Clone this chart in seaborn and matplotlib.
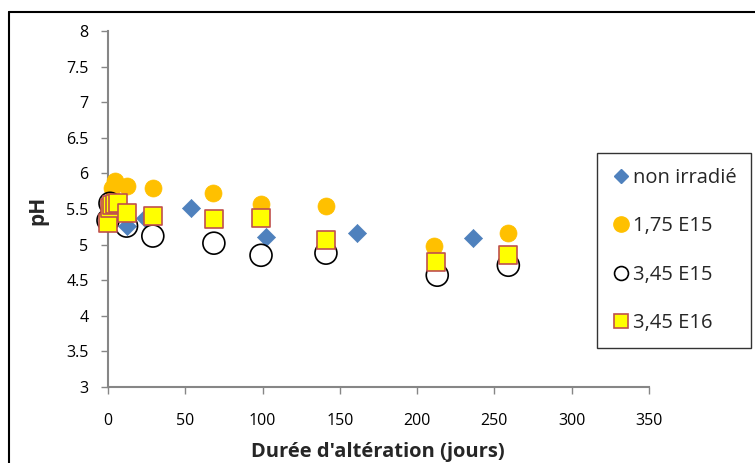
import matplotlib
matplotlib.use("Agg")
import matplotlib.pyplot as plt
import seaborn as sns
import pandas as pd
from matplotlib.lines import Line2D

sns.set_theme(style="white")
plt.rcParams['font.family'] = ['Open Sans', 'DejaVu Sans']

# Data
x_non = [3, 10, 12, 24, 54, 102, 161, 236]
y_non = [5.55, 5.50, 5.26, 5.37, 5.52, 5.10, 5.16, 5.09]

x_175 = [2.6, 4.5, 12, 29, 68, 99, 141, 211, 259]
y_175 = [5.79, 5.90, 5.83, 5.79, 5.73, 5.57, 5.54, 4.98, 5.16]

x_345e15 = [0, 1.3, 12, 29, 68.5, 99, 141, 213, 259]
y_345e15 = [5.34, 5.58, 5.26, 5.12, 5.02, 4.85, 4.88, 4.57, 4.71]

x_345e16 = [0, 1, 2.6, 4.5, 6.5, 12.3, 29, 68.5, 99, 141, 212, 259]
y_345e16 = [5.30, 5.52, 5.55, 5.57, 5.58, 5.44, 5.40, 5.36, 5.37, 5.06, 4.75, 4.85]

labels = ["non irradié", "1,75 E15", "3,45 E15", "3,45 E16"]
xticks = [0, 50, 100, 150, 200, 250, 300, 350]
yticks = [3, 3.5, 4, 4.5, 5, 5.5, 6, 6.5, 7, 7.5, 8]

fig = plt.figure(figsize=(7.55, 4.63), dpi=100)
ax = fig.add_axes([108/755, 1-387/463, (649-108)/755, (387-31)/463])

sns.scatterplot(x=x_non, y=y_non, marker='D', s=85, color='#4F81BD',
                edgecolor='#4F81BD', linewidth=0.5, ax=ax, zorder=3, clip_on=False)
sns.scatterplot(x=x_175, y=y_175, marker='o', s=150, color='#FFC000',
                edgecolor='#FFC000', linewidth=0.5, ax=ax, zorder=4, clip_on=False)
sns.scatterplot(x=x_345e15, y=y_345e15, marker='o', s=250, facecolor='none',
                edgecolor='black', linewidth=1.2, ax=ax, zorder=5, clip_on=False)
sns.scatterplot(x=x_345e16, y=y_345e16, marker='s', s=150, color='#FFFF00',
                edgecolor='#C0504D', linewidth=1.2, ax=ax, zorder=6, clip_on=False)

ax.set_xlim(0, 350)
ax.set_ylim(3, 8)
ax.set_xticks(xticks)
ax.set_xticklabels([str(v) for v in xticks])
ax.set_yticks(yticks)
ax.set_yticklabels([('%g' % v) for v in yticks])
ax.set_xlabel('')
ax.set_ylabel('')

for side in ['top', 'right']:
    ax.spines[side].set_visible(False)
for side in ['left', 'bottom']:
    ax.spines[side].set_color('#868686')
    ax.spines[side].set_linewidth(1.5)
    ax.spines[side].set_zorder(1)
ax.tick_params(axis='both', which='major', direction='out', length=5, width=1,
               color='#868686', labelsize=11.5, labelcolor='black',
               left=True, bottom=True)
ax.tick_params(axis='y', pad=9)
ax.tick_params(axis='x', pad=14)

fig.text(378/755, 1-452/463, "Durée d'altération (jours)", ha='center', va='center',
         fontsize=14.5, fontweight='bold')
fig.text(38/755, 1-210/463, 'pH', ha='center', va='center', rotation=90,
         fontsize=15, fontweight='bold')

handles = [
    Line2D([], [], ls='none', marker='D', markersize=7.5, color='#4F81BD'),
    Line2D([], [], ls='none', marker='o', markersize=11, color='#FFC000'),
    Line2D([], [], ls='none', marker='o', markersize=10, markerfacecolor='none',
           markeredgecolor='black', markeredgewidth=1.2),
    Line2D([], [], ls='none', marker='s', markersize=10.5, markerfacecolor='#FFFF00',
           markeredgecolor='#C0504D', markeredgewidth=1.2),
]
leg = fig.legend(handles, labels, loc='center',
                 bbox_to_anchor=(600/755, 1-349/463, 148/755, 197/463),
                 frameon=True, fancybox=False, fontsize=14.5, labelspacing=1.4,
                 handletextpad=0.15, handlelength=0.9, borderpad=0.75,
                 borderaxespad=0)
leg.get_frame().set_edgecolor('black')
leg.get_frame().set_linewidth(1.0)

# outer chart-area border (left and top edges visible)
fig.add_artist(Line2D([9/755, 9/755], [0, 1-12/463], color='black', lw=1.5,
                      transform=fig.transFigure))
fig.add_artist(Line2D([9/755, 1], [1-12/463, 1-12/463], color='black', lw=1.5,
                      transform=fig.transFigure))

fig.savefig('out.png', dpi=100, facecolor='white')
